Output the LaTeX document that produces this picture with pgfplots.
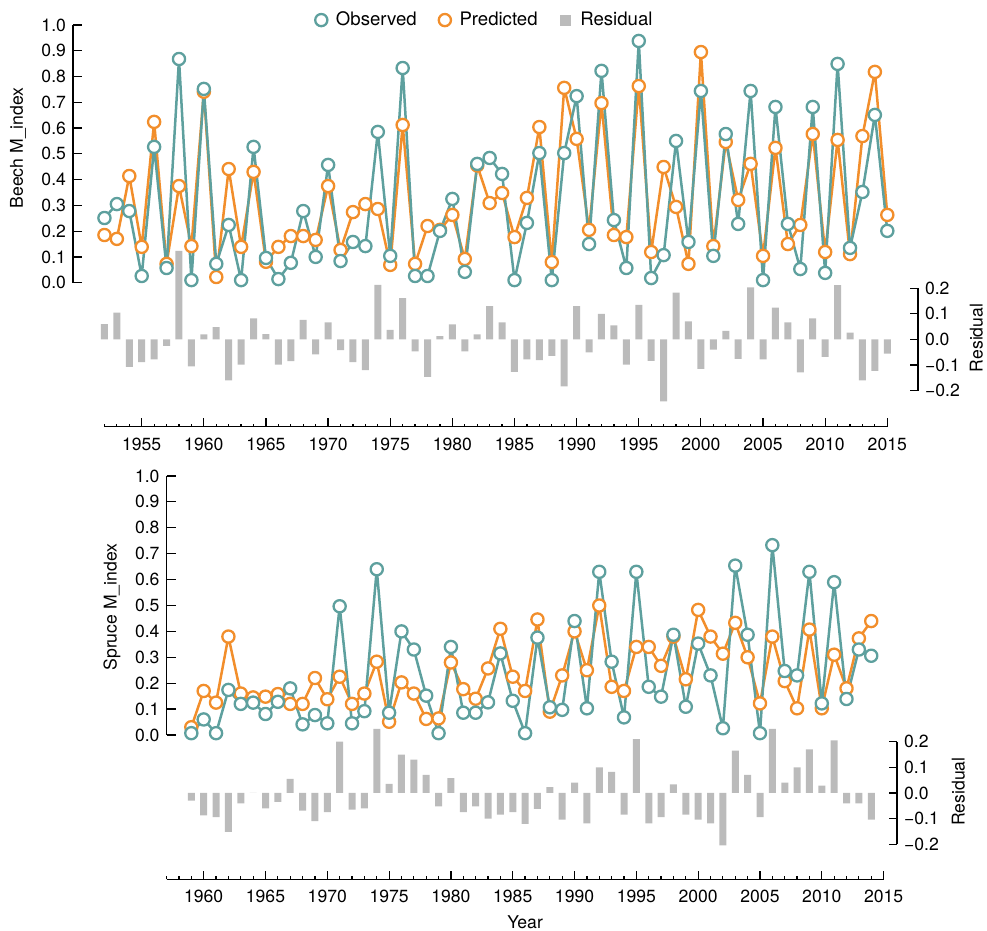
\documentclass[border=0pt]{standalone}
\usepackage{fontspec}
\setmainfont{TeX Gyre Heros}
\usepackage{pgfplots}
\usepackage{pgfplotstable}
\pgfplotsset{compat=1.18}

\definecolor{obscol}{RGB}{94,160,158}
\definecolor{predcol}{RGB}{242,142,43}
\definecolor{rescol}{RGB}{187,187,187}

% Beech: year, observed, predicted, residual
\pgfplotstableread{
year obs pred res
1952 0.251 0.185 0.060
1953 0.305 0.170 0.105
1954 0.278 0.414 -0.107
1955 0.026 0.139 -0.088
1956 0.527 0.624 -0.078
1957 0.057 0.073 -0.025
1958 0.868 0.375 0.346
1959 0.010 0.142 -0.105
1960 0.752 0.741 0.020
1961 0.073 0.022 0.048
1962 0.224 0.441 -0.160
1963 0.010 0.139 -0.098
1964 0.527 0.430 0.082
1965 0.096 0.081 0.021
1966 0.014 0.139 -0.098
1967 0.077 0.181 -0.085
1968 0.278 0.181 0.077
1969 0.100 0.166 -0.058
1970 0.457 0.375 0.067
1971 0.084 0.127 -0.042
1972 0.158 0.274 -0.088
1973 0.142 0.305 -0.120
1974 0.585 0.286 0.213
1975 0.104 0.069 0.038
1976 0.833 0.612 0.162
1977 0.026 0.073 -0.046
1978 0.026 0.220 -0.146
1979 0.201 0.205 0.013
1980 0.325 0.263 0.059
1981 0.042 0.092 -0.046
1982 0.461 0.455 0.020
1983 0.484 0.309 0.130
1984 0.422 0.348 0.067
1985 0.010 0.177 -0.127
1986 0.232 0.329 -0.078
1987 0.503 0.604 -0.081
1988 0.010 0.080 -0.064
1989 0.503 0.756 -0.183
1990 0.724 0.558 0.130
1991 0.150 0.205 -0.050
1992 0.822 0.697 0.100
1993 0.243 0.185 0.055
1994 0.057 0.177 -0.098
1995 0.938 0.763 0.135
1996 0.018 0.119 -0.084
1997 0.107 0.449 -0.242
1998 0.550 0.294 0.183
1999 0.158 0.073 0.071
2000 0.744 0.895 -0.115
2001 0.104 0.142 -0.040
2002 0.577 0.546 0.034
2003 0.228 0.321 -0.076
2004 0.744 0.461 0.204
2005 0.010 0.104 -0.078
2006 0.682 0.523 0.124
2007 0.228 0.150 0.067
2008 0.053 0.224 -0.128
2009 0.682 0.577 0.082
2010 0.038 0.119 -0.068
2011 0.849 0.554 0.212
2012 0.135 0.111 0.027
2013 0.352 0.569 -0.160
2014 0.651 0.818 -0.123
2015 0.201 0.263 -0.055
}\beech

% Spruce
\pgfplotstableread{
year obs pred res
1959 0.007 0.030 -0.030
1960 0.060 0.170 -0.087
1961 0.007 0.125 -0.094
1962 0.174 0.380 -0.152
1963 0.120 0.160 -0.040
1964 0.125 0.145 0.000
1965 0.081 0.148 -0.060
1966 0.128 0.158 -0.035
1967 0.180 0.120 0.055
1968 0.041 0.120 -0.069
1969 0.077 0.220 -0.110
1970 0.045 0.138 -0.075
1971 0.497 0.225 0.200
1972 0.045 0.120 -0.065
1973 0.092 0.160 -0.060
1974 0.640 0.283 0.250
1975 0.086 0.051 0.036
1976 0.400 0.203 0.150
1977 0.330 0.160 0.130
1978 0.152 0.062 0.071
1979 0.007 0.064 -0.052
1980 0.340 0.280 0.058
1981 0.086 0.177 -0.075
1982 0.086 0.140 -0.052
1983 0.126 0.257 -0.100
1984 0.315 0.410 -0.084
1985 0.132 0.225 -0.075
1986 0.007 0.170 -0.120
1987 0.376 0.446 -0.062
1988 0.107 0.090 0.023
1989 0.097 0.230 -0.104
1990 0.440 0.400 0.040
1991 0.103 0.250 -0.118
1992 0.630 0.500 0.100
1993 0.283 0.186 0.082
1994 0.068 0.170 -0.084
1995 0.630 0.340 0.210
1996 0.186 0.340 -0.118
1997 0.148 0.267 -0.094
1998 0.387 0.380 0.034
1999 0.109 0.215 -0.084
2000 0.353 0.483 -0.104
2001 0.230 0.380 -0.118
2002 0.026 0.314 -0.204
2003 0.654 0.433 0.165
2004 0.387 0.300 0.071
2005 0.007 0.122 -0.094
2006 0.733 0.380 0.250
2007 0.247 0.208 0.040
2008 0.230 0.103 0.100
2009 0.630 0.407 0.170
2010 0.122 0.103 0.029
2011 0.590 0.310 0.205
2012 0.139 0.180 -0.040
2013 0.330 0.373 -0.040
2014 0.306 0.440 -0.104
}\spruce

\newcommand{\fs}{\fontsize{8.8}{10}\selectfont}

\pgfplotsset{
  base/.style={scale only axis, clip=false, tick align=inside,
    axis line style={line width=0.6pt},
    every tick/.append style={line width=0.6pt, black},
    label style={font=\fs}, ticklabel style={font=\fs}},
  mainax/.style={base, anchor=south west, axis y line*=left, axis x line=none,
    xtick=\empty, ymin=0, ymax=1,
    ytick={0,0.1,0.2,0.3,0.4,0.5,0.6,0.7,0.8,0.9,1},
    yticklabels={0.0,0.1,0.2,0.3,0.4,0.5,0.6,0.7,0.8,0.9,1.0},
    major tick length=4.5pt},
  resax/.style={base, anchor=south west, axis y line*=right, axis x line=none,
    xtick=\empty, ymin=-0.2, ymax=0.2,
    ytick={-0.2,-0.1,0,0.1,0.2},
    yticklabels={−0.2,−0.1,0.0,0.1,0.2},
    major tick length=4pt, ylabel={Residual}},
  xax/.style={base, anchor=south west, axis x line*=bottom, axis y line=none,
    ytick=\empty, ymin=0, ymax=1, height=10pt,
    major tick length=4.2pt, minor tick length=1.4pt,
    xticklabel style={yshift=-2pt}},
  obsline/.style={color=obscol, line width=1.25pt, line join=round, mark=*, mark size=3.05pt,
    mark options={line width=1.15pt, fill=white, draw=obscol, solid}},
  predline/.style={color=predcol, line width=1.25pt, line join=round, mark=*, mark size=3.05pt,
    mark options={line width=1.15pt, fill=white, draw=predcol, solid}},
  resbar/.style={ybar, bar width=3.5pt, fill=rescol, draw=none},
}

\begin{document}
\begin{tikzpicture}
\useasboundingbox (0,0) rectangle (493.5pt,465.5pt);

% ---------- Beech ----------
\begin{axis}[mainax, at={(36.5pt,324.15pt)}, width=407.15pt, height=128.85pt,
    xmin=1949.47, xmax=2015,
    ylabel={Beech M\_index},
    ylabel style={at={(axis description cs:-0.0675,0.523)}, anchor=center},
    legend style={at={(axis description cs:0.507,1.019)}, anchor=center,
      draw=none, fill=none, font=\fontsize{9.3}{11}\selectfont, legend columns=3,
      /tikz/every even column/.append style={column sep=9pt}},
    legend image code/.code={\path (0cm,0cm) (0.28cm,0cm);
      \draw[#1] plot coordinates {(0.1cm,0cm)};}]
  \addlegendimage{only marks, mark=*, mark size=3.05pt,
    mark options={line width=1.15pt, fill=white, draw=obscol}}
  \addlegendentry{Observed}
  \addlegendimage{only marks, mark=*, mark size=3.05pt,
    mark options={line width=1.15pt, fill=white, draw=predcol}}
  \addlegendentry{Predicted}
  \addlegendimage{only marks, mark=square*, mark size=2.5pt,
    mark options={draw=rescol, fill=rescol}}
  \addlegendentry{Residual}
  \addplot[predline, forget plot] table[x=year, y=pred] {\beech};
  \addplot[obsline, forget plot] table[x=year, y=obs] {\beech};
\end{axis}

\begin{axis}[resax, at={(52.2pt,270.15pt)}, width=406.8pt, height=51.2pt,
    xmin=1952, xmax=2017.47,
    ylabel style={at={(axis description cs:1.0718,0.515)}, anchor=center}]
  \addplot[resbar] table[x=year, y=res] {\beech};
\end{axis}

\begin{axis}[xax, at={(52.2pt,252.15pt)}, width=391.45pt,
    xmin=1952, xmax=2015,
    xtick={1955,1960,1965,1970,1975,1980,1985,1990,1995,2000,2005,2010,2015},
    xticklabels={1955,1960,1965,1970,1975,1980,1985,1990,1995,2000,2005,2010,2015},
    minor xtick={1952,1953,...,2015}]
\end{axis}

% ---------- Spruce ----------
\begin{axis}[mainax, at={(83.3pt,98pt)}, width=358.5pt, height=129.5pt,
    xmin=1957, xmax=2015,
    ylabel={Spruce M\_index},
    ylabel style={at={(axis description cs:-0.0762,0.494)}, anchor=center}]
  \addplot[predline] table[x=year, y=pred] {\spruce};
  \addplot[obsline] table[x=year, y=obs] {\spruce};
\end{axis}

\begin{axis}[resax, at={(83.3pt,43.35pt)}, width=365.2pt, height=51.3pt,
    xmin=1957, xmax=2016.08,
    ylabel style={at={(axis description cs:1.084,0.513)}, anchor=center}]
  \addplot[resbar] table[x=year, y=res] {\spruce};
\end{axis}

\begin{axis}[xax, at={(83.3pt,25.85pt)}, width=358.5pt,
    xmin=1957, xmax=2015,
    xtick={1960,1965,1970,1975,1980,1985,1990,1995,2000,2005,2010,2015},
    xticklabels={1960,1965,1970,1975,1980,1985,1990,1995,2000,2005,2010,2015},
    minor xtick={1957,1958,...,2015},
    xlabel={Year},
    xlabel style={at={(axis description cs:0.5,-2.135)}, anchor=center}]
\end{axis}
\end{tikzpicture}
\end{document}
